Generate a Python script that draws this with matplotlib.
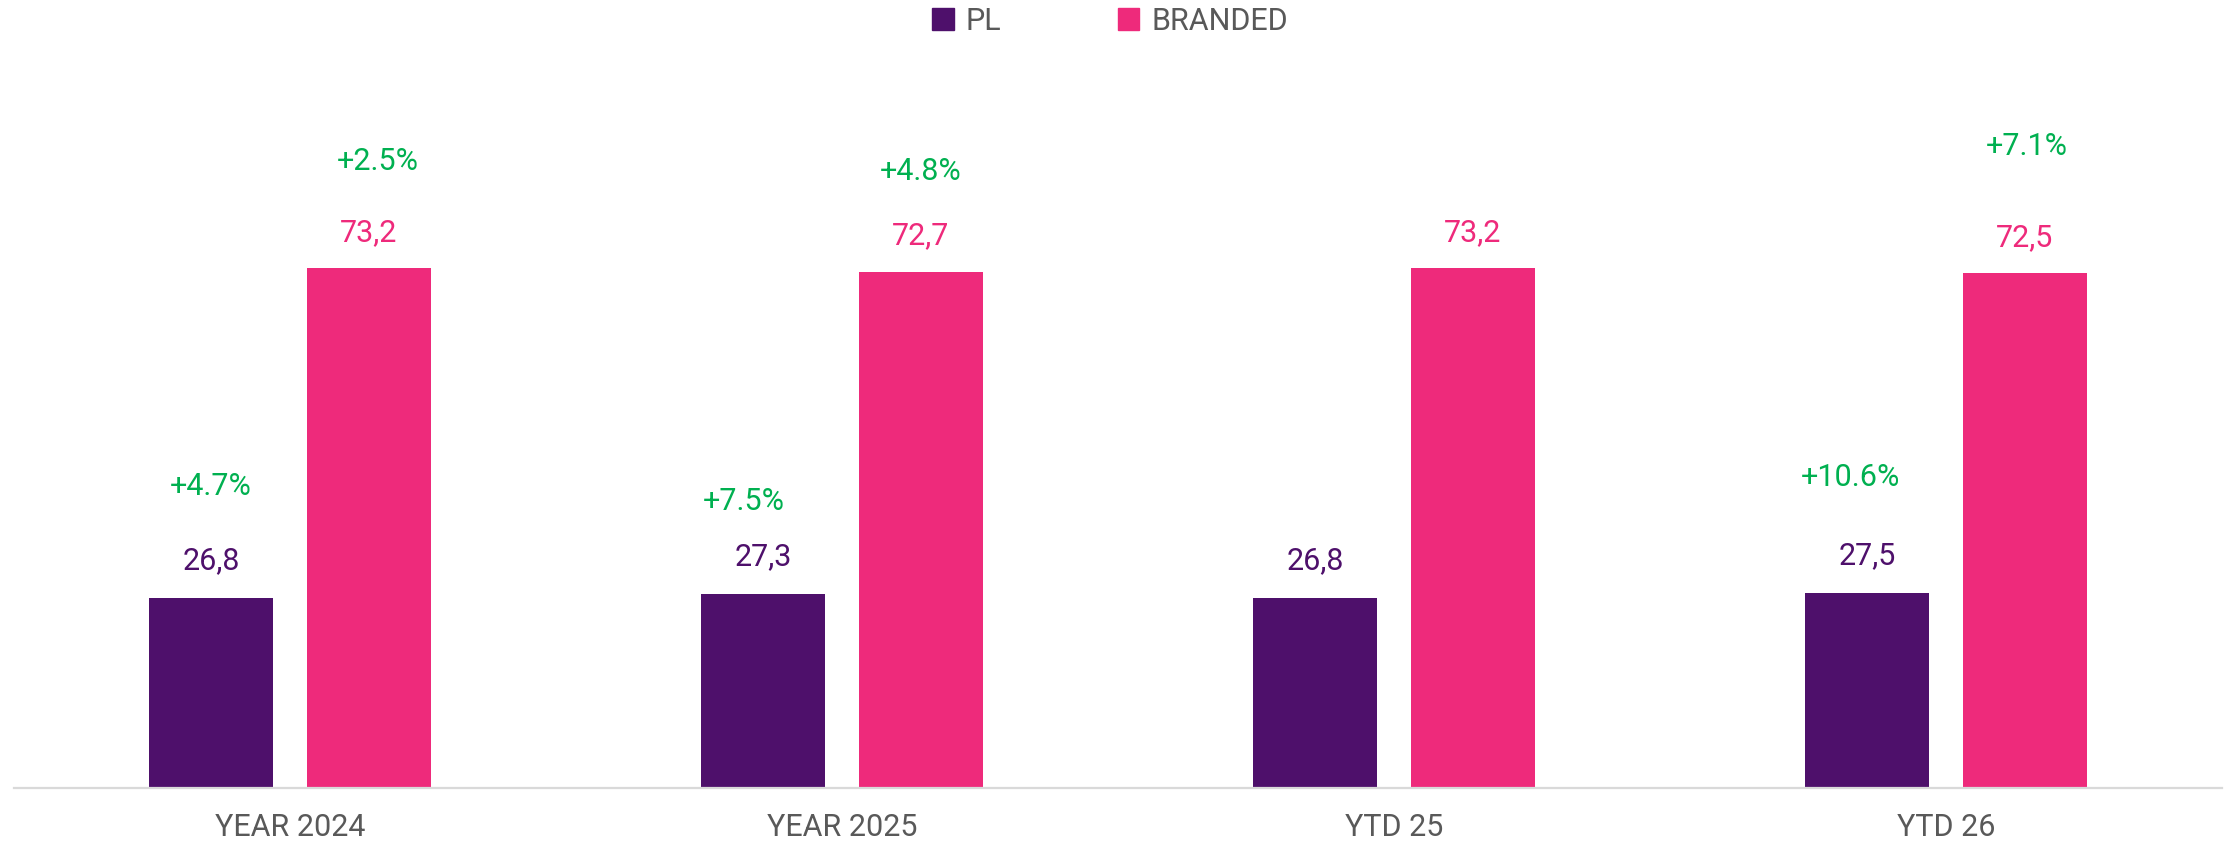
import numpy as np
import matplotlib.pyplot as plt
from matplotlib.patches import Patch

plt.rcParams['font.family'] = ['Roboto', 'DejaVu Sans']

# data
categories = ["YEAR 2024", "YEAR 2025", "YTD 25", "YTD 26"]
pl_values = [26.8, 27.3, 26.8, 27.5]
branded_values = [73.2, 72.7, 73.2, 72.5]
pl_growth = ["+4.7%", "+7.5%", "", "+10.6%"]
branded_growth = ["+2.5%", "+4.8%", "", "+7.1%"]

# label placement (data units above bar top, x shift)
pl_growth_dy = [15.6, 13.0, 0, 16.3]
pl_growth_dx = [0.0, -0.035, 0, -0.03]
branded_growth_dy = [15.0, 14.1, 0, 17.8]
branded_growth_dx = [0.016, 0.0, 0, 0.004]

PL_COLOR = "#4E106B"
BR_COLOR = "#EE2A7B"
GREEN = "#00B050"
GRAY = "#595959"

W, H = 2231, 844
fig = plt.figure(figsize=(W / 100, H / 100), dpi=100)
ax = fig.add_axes([14 / W, 56 / H, (2222 - 14) / W, 710 / H])

x = np.arange(len(categories))
bw = 0.225
off = 0.143

ax.bar(x - off, pl_values, bw, color=PL_COLOR, label="PL")
ax.bar(x + off, branded_values, bw, color=BR_COLOR, label="BRANDED")

for i in range(len(categories)):
    ax.text(x[i] - off, pl_values[i] + 3.2, f"{pl_values[i]:.1f}".replace(".", ","),
            ha="center", va="bottom", fontsize=22, color=PL_COLOR)
    ax.text(x[i] + off, branded_values[i] + 3.0, f"{branded_values[i]:.1f}".replace(".", ","),
            ha="center", va="bottom", fontsize=22, color=BR_COLOR)
    if pl_growth[i]:
        ax.text(x[i] - off + pl_growth_dx[i], pl_values[i] + pl_growth_dy[i], pl_growth[i],
                ha="center", va="center", fontsize=22, color=GREEN)
    if branded_growth[i]:
        ax.text(x[i] + off + branded_growth_dx[i], branded_values[i] + branded_growth_dy[i],
                branded_growth[i], ha="center", va="center", fontsize=22, color=GREEN)

ax.set_xlim(-0.5, len(categories) - 0.5)
ax.set_ylim(0, 100)
ax.set_xticks(x)
ax.set_xticklabels(categories, fontsize=22, color=GRAY)
ax.tick_params(axis="x", length=0, pad=18)
ax.set_yticks([])
for s in ["top", "left", "right"]:
    ax.spines[s].set_visible(False)
ax.spines["bottom"].set_color("#D9D9D9")
ax.spines["bottom"].set_linewidth(1.6)

handles = [Patch(color=PL_COLOR, label="PL"), Patch(color=BR_COLOR, label="BRANDED")]
leg = fig.legend(handles=handles, loc="center", bbox_to_anchor=(1110 / W, 1 - 21 / H),
                 ncol=2, frameon=False, fontsize=22, handlelength=0.7, handleheight=0.7,
                 handletextpad=0.4, columnspacing=3.8)
for t in leg.get_texts():
    t.set_color(GRAY)

fig.savefig("out.png", dpi=100)
